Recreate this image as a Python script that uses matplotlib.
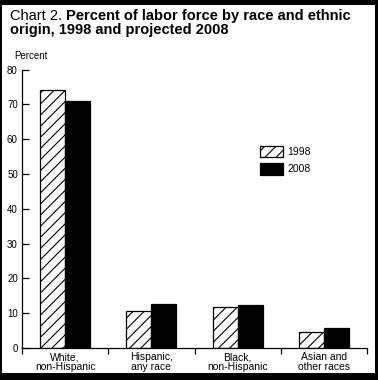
import matplotlib
matplotlib.use('Agg')
import matplotlib.pyplot as plt
import numpy as np
from matplotlib.patches import Rectangle

plt.rcParams['font.family'] = ['Liberation Sans', 'DejaVu Sans']
plt.rcParams['hatch.linewidth'] = 0.8

categories = ['White,\nnon-Hispanic', 'Hispanic,\nany race', 'Black,\nnon-Hispanic', 'Asian and\nother races']
pct_1998 = [74.0, 10.6, 11.7, 4.7]
pct_2008 = [71.0, 12.6, 12.4, 5.8]
series_names = ['1998', '2008']
yticks = [0, 10, 20, 30, 40, 50, 60, 70, 80]

W, H = 378, 380
fig = plt.figure(figsize=(W / 100, H / 100), dpi=100)
fig.patch.set_facecolor('black')
# white panel inside the black frame (frame is thicker top/bottom)
fig.add_artist(Rectangle((2 / W, 7 / H), 373 / W, 368 / H, transform=fig.transFigure,
                         facecolor='white', edgecolor='none', zorder=-10))

ax = fig.add_axes([22 / W, 32 / H, 345 / W, 278.5 / H])
ax.set_facecolor('white')

x = np.arange(len(categories))
bw = 0.29
ax.bar(x - bw / 2, pct_1998, bw, facecolor='white', edgecolor='black', hatch='///',
       linewidth=0.9, label=series_names[0])
ax.bar(x + bw / 2, pct_2008, bw, facecolor='black', edgecolor='black',
       linewidth=0.9, label=series_names[1])

ax.set_xlim(-0.5, len(categories) - 0.5)
ax.set_ylim(0, 80)
ax.set_yticks(yticks)
ax.tick_params(axis='y', direction='in', length=5, width=0.9, labelsize=7, pad=3)
for s in ['top', 'right']:
    ax.spines[s].set_visible(False)
ax.spines['left'].set_linewidth(0.9)
ax.spines['bottom'].set_linewidth(0.9)

# category labels centered, ticks on the category boundaries
ax.set_xticks(np.arange(len(categories) + 1) - 0.5)
ax.set_xticklabels([])
ax.tick_params(axis='x', direction='out', length=4, width=0.9)
for i, c in enumerate(categories):
    ax.text(i, -1.2, c, ha='center', va='top', fontsize=7.5, linespacing=1.0)

ax.text(-0.395, 82.5, 'Percent', ha='center', va='bottom', fontsize=7,
        transform=ax.transData)

ax.legend(loc='upper left', bbox_to_anchor=(0.663, 0.76), frameon=False, fontsize=7.5,
          handlelength=2.2, handleheight=1.3, handletextpad=0.4, labelspacing=0.6)

t1 = fig.text(10 / W, 1 - 20 / H, 'Chart 2. ', fontsize=10.5, va='baseline', ha='left')
ax.annotate('Percent of labor force by race and ethnic', xy=(1, 0), xycoords=t1,
            fontsize=10.5, fontweight='bold', va='bottom', ha='left')
fig.text(10 / W, 1 - 34 / H, 'origin, 1998 and projected 2008', fontsize=10.5,
         fontweight='bold', va='baseline', ha='left')

fig.savefig('out.png', dpi=100, facecolor=fig.get_facecolor())
